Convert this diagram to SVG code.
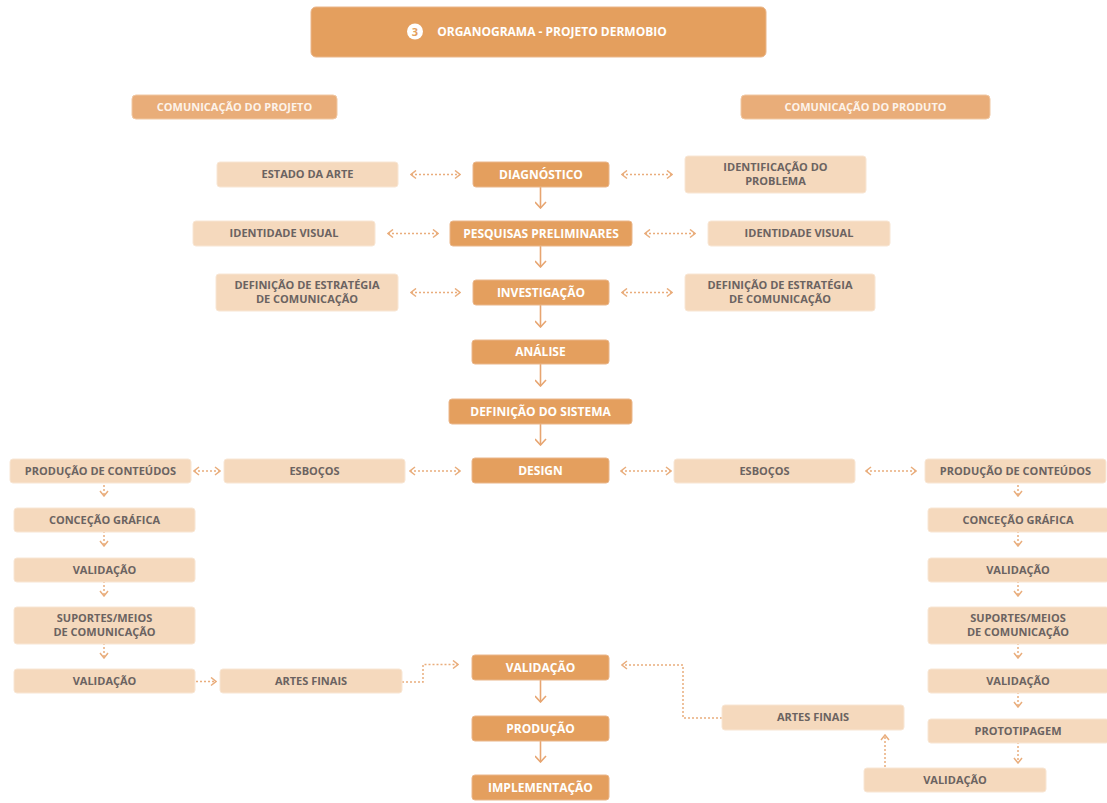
<svg xmlns="http://www.w3.org/2000/svg" width="1107" height="803" viewBox="0 0 1107 803">
  <style>
    .dark{fill:#e49f5e;stroke:#eab68a;stroke-width:1}
    .hdr{fill:#e9ad79;stroke:#f0c8a4;stroke-width:1}
    .light{fill:#f5d9bd;stroke:#f8e6d4;stroke-width:1}
    text{font-family:"Open Sans","Liberation Sans",sans-serif;font-weight:700;text-anchor:middle}
    .wt{fill:#ffffff;font-size:12px}
    .gt{fill:#6b6361;font-size:11px}
    .ht{fill:#fdf3ea;font-size:11px}
    .solid{stroke:#e7a571;stroke-width:1.6;fill:none}
    .dot{stroke:#e9ad7c;stroke-width:1.5;stroke-dasharray:2 2;fill:none}
  </style>
  <defs>
    <marker id="chev" viewBox="0 0 10 10" refX="9" refY="5" markerWidth="10" markerHeight="10" markerUnits="userSpaceOnUse" orient="auto-start-reverse">
      <path d="M4,1 L9,5 L4,9" fill="none" stroke="#e9ad7c" stroke-width="1.5"/>
    </marker>
    <marker id="chevS" viewBox="0 0 12 12" refX="11" refY="6" markerWidth="12" markerHeight="12" markerUnits="userSpaceOnUse" orient="auto">
      <path d="M5,0.5 L11,6 L5,11.5" fill="none" stroke="#e7a571" stroke-width="1.6"/>
    </marker>
  </defs>

  <rect width="1107" height="803" fill="#ffffff"/>

  <!-- title -->
  <g id="title">
    <rect x="311" y="7" width="455" height="50" rx="5" class="dark"/>
    <circle cx="415" cy="31.5" r="8" fill="#ffffff"/>
    <text x="415" y="35.5" style="fill:#e49f5e;font-size:11px">3</text>
    <text x="552" y="36" class="wt" style="font-size:12px">ORGANOGRAMA - PROJETO DERMOBIO</text>
  </g>

  <!-- section headers -->
  <g id="hdr-projeto"><rect x="132" y="95" width="205" height="24" rx="4" class="hdr"/><text x="234.5" y="111" class="ht">COMUNICAÇÃO DO PROJETO</text></g>
  <g id="hdr-produto"><rect x="741" y="95" width="249" height="24" rx="4" class="hdr"/><text x="865.5" y="111" class="ht">COMUNICAÇÃO DO PRODUTO</text></g>

  <!-- connectors -->
  <g id="connectors">
    <!-- main flow -->
    <path class="solid" d="M540.5,187 V208" marker-end="url(#chevS)"/>
    <path class="solid" d="M540.5,246 V267" marker-end="url(#chevS)"/>
    <path class="solid" d="M540.5,305 V327" marker-end="url(#chevS)"/>
    <path class="solid" d="M540.5,364 V386" marker-end="url(#chevS)"/>
    <path class="solid" d="M540.5,424 V445" marker-end="url(#chevS)"/>
    <path class="solid" d="M540.5,680 V702" marker-end="url(#chevS)"/>
    <path class="solid" d="M540.5,741 V762" marker-end="url(#chevS)"/>

    <!-- side links -->
    <path class="dot" d="M411,174.5 H460" marker-start="url(#chev)" marker-end="url(#chev)"/>
    <path class="dot" d="M622,174.5 H672" marker-start="url(#chev)" marker-end="url(#chev)"/>
    <path class="dot" d="M388,233.5 H438" marker-start="url(#chev)" marker-end="url(#chev)"/>
    <path class="dot" d="M645,233.5 H695" marker-start="url(#chev)" marker-end="url(#chev)"/>
    <path class="dot" d="M411,292.5 H460" marker-start="url(#chev)" marker-end="url(#chev)"/>
    <path class="dot" d="M622,292.5 H672" marker-start="url(#chev)" marker-end="url(#chev)"/>
    <path class="dot" d="M194,471 H220" marker-start="url(#chev)" marker-end="url(#chev)"/>
    <path class="dot" d="M410,471 H460" marker-start="url(#chev)" marker-end="url(#chev)"/>
    <path class="dot" d="M621,471 H671" marker-start="url(#chev)" marker-end="url(#chev)"/>
    <path class="dot" d="M866,471 H916" marker-start="url(#chev)" marker-end="url(#chev)"/>

    <!-- left branch -->
    <path class="dot" d="M104,477 V496" marker-end="url(#chev)"/>
    <path class="dot" d="M104,527 V546" marker-end="url(#chev)"/>
    <path class="dot" d="M104,577 V596" marker-end="url(#chev)"/>
    <path class="dot" d="M104,639 V658" marker-end="url(#chev)"/>
    <path class="dot" d="M196,681.5 H216" marker-end="url(#chev)"/>
    <path class="dot" d="M402,682 H423 V664.5 H458" marker-end="url(#chev)"/>

    <!-- right branch -->
    <path class="dot" d="M1018,477 V496" marker-end="url(#chev)"/>
    <path class="dot" d="M1018,527 V546" marker-end="url(#chev)"/>
    <path class="dot" d="M1018,577 V596" marker-end="url(#chev)"/>
    <path class="dot" d="M1018,639 V658" marker-end="url(#chev)"/>
    <path class="dot" d="M1018,688 V707" marker-end="url(#chev)"/>
    <path class="dot" d="M1018,738 V763" marker-end="url(#chev)"/>
    <path class="dot" d="M885,767 V735" marker-end="url(#chev)"/>
    <path class="dot" d="M722,718 H683 V665 H622" marker-end="url(#chev)"/>
  </g>

  <!-- main column -->
  <g id="diagnostico"><rect x="473" y="162" width="136" height="25" rx="3" class="dark"/><text x="541" y="178.5" class="wt">DIAGNÓSTICO</text></g>
  <g id="pesquisas"><rect x="450" y="221" width="182" height="25" rx="3" class="dark"/><text x="541" y="237.5" class="wt">PESQUISAS PRELIMINARES</text></g>
  <g id="investigacao"><rect x="473" y="280" width="136" height="25" rx="3" class="dark"/><text x="541" y="296.5" class="wt">INVESTIGAÇÃO</text></g>
  <g id="analise"><rect x="472" y="340" width="137" height="24" rx="3" class="dark"/><text x="540.5" y="356" class="wt">ANÁLISE</text></g>
  <g id="definicao-sistema"><rect x="449" y="399" width="183" height="25" rx="3" class="dark"/><text x="540.5" y="415.5" class="wt">DEFINIÇÃO DO SISTEMA</text></g>
  <g id="design"><rect x="472" y="458" width="137" height="25" rx="3" class="dark"/><text x="540.5" y="474.5" class="wt">DESIGN</text></g>
  <g id="validacao-main"><rect x="472" y="655" width="137" height="25" rx="3" class="dark"/><text x="540.5" y="671.5" class="wt">VALIDAÇÃO</text></g>
  <g id="producao"><rect x="472" y="716" width="137" height="25" rx="3" class="dark"/><text x="540.5" y="732.5" class="wt">PRODUÇÃO</text></g>
  <g id="implementacao"><rect x="472" y="775" width="137" height="25" rx="3" class="dark"/><text x="540.5" y="791.5" class="wt">IMPLEMENTAÇÃO</text></g>

  <!-- project communication side -->
  <g id="estado-arte"><rect x="217" y="162" width="181" height="25" rx="3" class="light"/><text x="307.5" y="178" class="gt">ESTADO DA ARTE</text></g>
  <g id="identidade-l"><rect x="193" y="221" width="182" height="25" rx="3" class="light"/><text x="284" y="237" class="gt">IDENTIDADE VISUAL</text></g>
  <g id="estrategia-l"><rect x="216" y="274" width="182" height="37" rx="3" class="light"/><text x="307" y="289" class="gt">DEFINIÇÃO DE ESTRATÉGIA</text><text x="307" y="303" class="gt">DE COMUNICAÇÃO</text></g>
  <g id="esbocos-l"><rect x="224" y="459" width="181" height="24" rx="3" class="light"/><text x="314.5" y="475" class="gt">ESBOÇOS</text></g>
  <g id="conteudos-l"><rect x="10" y="459" width="181" height="24" rx="3" class="light"/><text x="100.5" y="475" class="gt">PRODUÇÃO DE CONTEÚDOS</text></g>
  <g id="concecao-l"><rect x="14" y="508" width="181" height="24" rx="3" class="light"/><text x="104.5" y="524" class="gt">CONCEÇÃO GRÁFICA</text></g>
  <g id="validacao-l1"><rect x="14" y="558" width="181" height="24" rx="3" class="light"/><text x="104.5" y="574" class="gt">VALIDAÇÃO</text></g>
  <g id="suportes-l"><rect x="14" y="607" width="181" height="37" rx="3" class="light"/><text x="104.5" y="622" class="gt">SUPORTES/MEIOS</text><text x="104.5" y="636" class="gt">DE COMUNICAÇÃO</text></g>
  <g id="validacao-l2"><rect x="14" y="669" width="181" height="24" rx="3" class="light"/><text x="104.5" y="685" class="gt">VALIDAÇÃO</text></g>
  <g id="artes-l"><rect x="220" y="669" width="182" height="24" rx="3" class="light"/><text x="311" y="685" class="gt">ARTES FINAIS</text></g>

  <!-- product communication side -->
  <g id="problema"><rect x="685" y="156" width="181" height="37" rx="3" class="light"/><text x="775.5" y="171" class="gt">IDENTIFICAÇÃO DO</text><text x="775.5" y="185" class="gt">PROBLEMA</text></g>
  <g id="identidade-r"><rect x="708" y="221" width="182" height="25" rx="3" class="light"/><text x="799" y="237" class="gt">IDENTIDADE VISUAL</text></g>
  <g id="estrategia-r"><rect x="685" y="274" width="190" height="37" rx="3" class="light"/><text x="780" y="289" class="gt">DEFINIÇÃO DE ESTRATÉGIA</text><text x="780" y="303" class="gt">DE COMUNICAÇÃO</text></g>
  <g id="esbocos-r"><rect x="674" y="459" width="181" height="24" rx="3" class="light"/><text x="764.5" y="475" class="gt">ESBOÇOS</text></g>
  <g id="conteudos-r"><rect x="925" y="459" width="181" height="24" rx="3" class="light"/><text x="1015.5" y="475" class="gt">PRODUÇÃO DE CONTEÚDOS</text></g>
  <g id="concecao-r"><rect x="928" y="508" width="181" height="24" rx="3" class="light"/><text x="1018" y="524" class="gt">CONCEÇÃO GRÁFICA</text></g>
  <g id="validacao-r1"><rect x="928" y="558" width="181" height="24" rx="3" class="light"/><text x="1018" y="574" class="gt">VALIDAÇÃO</text></g>
  <g id="suportes-r"><rect x="928" y="607" width="181" height="37" rx="3" class="light"/><text x="1018" y="622" class="gt">SUPORTES/MEIOS</text><text x="1018" y="636" class="gt">DE COMUNICAÇÃO</text></g>
  <g id="validacao-r2"><rect x="928" y="669" width="181" height="24" rx="3" class="light"/><text x="1018" y="685" class="gt">VALIDAÇÃO</text></g>
  <g id="prototipagem"><rect x="928" y="719" width="181" height="24" rx="3" class="light"/><text x="1018" y="735" class="gt">PROTOTIPAGEM</text></g>
  <g id="validacao-r3"><rect x="864" y="768" width="182" height="24" rx="3" class="light"/><text x="955" y="784" class="gt">VALIDAÇÃO</text></g>
  <g id="artes-r"><rect x="722" y="705" width="182" height="25" rx="3" class="light"/><text x="813" y="721" class="gt">ARTES FINAIS</text></g>
</svg>
